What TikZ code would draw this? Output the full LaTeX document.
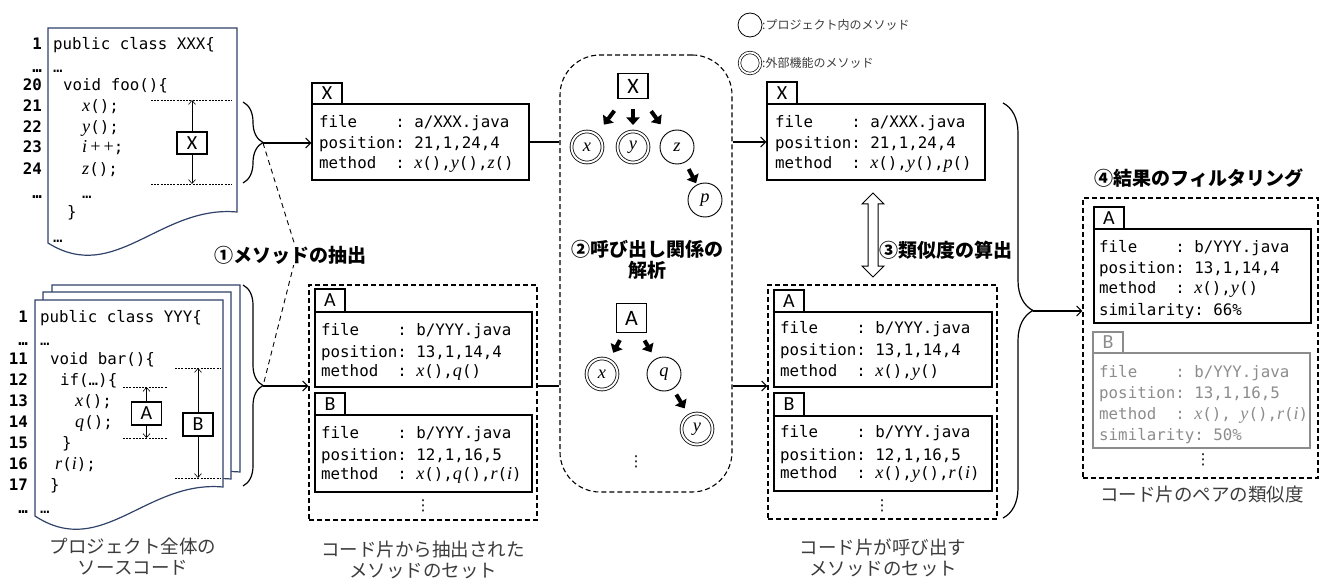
\documentclass[tikz,border=0pt]{standalone}
\usepackage{fontspec}
\setmainfont{Carlito}
\setsansfont{Carlito}
\setmonofont{DejaVu Sans Mono}
\newfontfamily\jp{Noto Sans CJK JP}
\newfontfamily\mi{Liberation Serif}[Scale=1.15]
\newfontfamily\dvs{DejaVu Sans}
\newcommand\mv[1]{{\mi\itshape #1}}
\usetikzlibrary{arrows.meta,decorations.pathreplacing,fit,calc}
\definecolor{docblue}{RGB}{47,66,105}
\definecolor{fade}{RGB}{140,140,140}
\definecolor{capgray}{RGB}{60,60,60}
\newcommand\threelines[8]{%
 \node[codetxt] (#1a) at (#2,#3) {#6};
 \node[codetxt] (#1b) at (#2,#4) {#7};
 \node[codetxt] (#1c) at (#2,#5) {#8};}
\tikzset{
 codetxt/.style={anchor=base west, inner sep=0, font=\ttfamily\fontsize{15.8}{19}\selectfont},
 lnum/.style={anchor=base east, inner sep=0, font=\ttfamily\bfseries\fontsize{15.8}{19}\selectfont},
 ibox/.style={draw, line width=1.1pt, inner sep=0},
 tabbox/.style={draw, line width=1.1pt, inner sep=0, minimum width=30, minimum height=22, font=\sffamily\fontsize{20}{20}\selectfont},
 grp/.style={draw, line width=1.1pt, dash pattern=on 5pt off 3pt, inner sep=0},
 docshape/.style={draw=docblue, line width=1.2pt, fill=white},
 rng/.style={line width=0.6pt, dash pattern=on 2pt off 1.2pt},
 rarrow/.style={line width=0.6pt, -{Straight Barb[length=4pt,width=7pt]}},
 conn/.style={line width=1.1pt},
 conarrow/.style={conn, -{Straight Barb[length=5pt,width=10pt]}},
 fatarrow/.style={line width=4pt, -{Triangle[length=7.5pt,width=13pt]}},
 meth/.style={circle, draw, line width=0.9pt, minimum size=34, inner sep=0, font=\mi\itshape\fontsize{16}{16}\selectfont},
 extmeth/.style={circle, draw, line width=0.8pt, double, double distance=2pt, minimum size=31, inner sep=0, font=\mi\itshape\fontsize{16}{16}\selectfont},
 steplbl/.style={font=\jp\bfseries\fontsize{19}{21}\selectfont, align=center, inner sep=1pt},
 captxt/.style={font=\jp\fontsize{18.5}{21}\selectfont, text=capgray, align=center, inner sep=0},
 brc/.style={line width=1.2pt, decorate},
 vdash/.style={line width=0.9pt, dash pattern=on 5pt off 4pt},
 vdots/.style={inner sep=0, font=\dvs\fontsize{15}{15}\selectfont},
}
\begin{document}
\begin{tikzpicture}[x=1pt,y=-1pt]
\useasboundingbox (0,0) rectangle (1319,580);

% ---------- document 1 ----------
\draw[docshape] (48,28) -- (237,28) -- (237,212) .. controls (160,205) and (115,285) .. (48,243) -- cycle;
\node[lnum] (n1) at (42,50) {1};
\node[lnum] (n2) at (42,73) {…};
\node[lnum] (n3) at (42,91) {20};
\node[lnum] (n4) at (42,112) {21};
\node[lnum] (n5) at (42,133) {22};
\node[lnum] (n6) at (42,153) {23};
\node[lnum] (n7) at (42,175) {24};
\node[lnum] (n8) at (42,198) {…};
\node[codetxt] (c1) at (53,50) {public class XXX\{};
\node[codetxt] (c2) at (53,73) {…};
\node[codetxt] (c3) at (63,91) {void foo()\{};
\node[codetxt] (c4) at (82,112) {\mv{x}();};
\node[codetxt] (c5) at (82,133) {\mv{y}();};
\node[codetxt] (c6) at (82,153) {\mv{i}{\mi\,+\,+};};
\node[codetxt] (c7) at (82,175) {\mv{z}();};
\node[codetxt] (c8) at (82,198) {…};
\node[codetxt] (c9) at (67,218) {\}};
\node[codetxt] (c10) at (53,242) {…};
\draw[rng] (151,100) coordinate (r1a) -- (232,100);
\draw[rng] (151,184) coordinate (r1b) -- (232,184);
\node[tabbox] (dX) at (192,143) {X};
\draw[rarrow] (dX.north) -- (dX.north |- r1a);
\draw[rarrow] (dX.south) -- (dX.south |- r1b);

% ---------- document 2 (stack) ----------
\draw[docshape] (52,285) -- (240,285) -- (240,472) .. controls (163,465) and (119,545) .. (52,501) -- cycle;
\draw[docshape] (43,292) -- (231,292) -- (231,479) .. controls (154,472) and (110,552) .. (43,508) -- cycle;
\draw[docshape] (35,300) -- (223,300) -- (223,487) .. controls (146,480) and (102,560) .. (35,516) -- cycle;
\node[lnum] (m1) at (28,322) {1};
\node[lnum] (m2) at (28,345) {…};
\node[lnum] (m3) at (28,364) {11};
\node[lnum] (m4) at (28,385) {12};
\node[lnum] (m5) at (28,406) {13};
\node[lnum] (m6) at (28,427) {14};
\node[lnum] (m7) at (28,448) {15};
\node[lnum] (m8) at (28,469) {16};
\node[lnum] (m9) at (28,490) {17};
\node[lnum] (m10) at (28,513) {…};
\node[codetxt] (e1) at (40,322) {public class YYY\{};
\node[codetxt] (e2) at (40,345) {…};
\node[codetxt] (e3) at (50,364) {void bar()\{};
\node[codetxt] (e4) at (60,385) {if(…)\{};
\node[codetxt] (e5) at (75,406) {\mv{x}();};
\node[codetxt] (e6) at (75,427) {\mv{q}();};
\node[codetxt] (e7) at (62,448) {\}};
\node[codetxt] (e8) at (55,469) {\mv{r}(\mv{i});};
\node[codetxt] (e9) at (50,490) {\}};
\node[codetxt] (e10) at (40,513) {…};
\draw[rng] (123,387) coordinate (ra1) -- (167,387);
\draw[rng] (123,438) coordinate (ra2) -- (167,438);
\draw[rng] (175,368) coordinate (rb1) -- (220,368);
\draw[rng] (175,478) coordinate (rb2) -- (220,478);
\node[tabbox, minimum height=23] (dA) at (146.5,413.5) {A};
\node[tabbox, minimum height=23] (dB) at (198,424.5) {B};
\draw[rarrow] (dA.north) -- (dA.north |- ra1);
\draw[rarrow] (dA.south) -- (dA.south |- ra2);
\draw[rarrow] (dB.north) -- (dB.north |- rb1);
\draw[rarrow] (dB.south) -- (dB.south |- rb2);

\node[captxt] (cap1) at (133,557) {プロジェクト全体の\\ソースコード};

% ---------- braces ----------
\draw[brc, decoration={brace, amplitude=20pt}] (243,102) -- (243,183);
\draw[brc, decoration={brace, amplitude=20pt}] (243,285) -- (243,486);
\coordinate (t1) at (263,143);
\coordinate (t2) at (263,386);
\coordinate (apex) at (297,252);
\draw[vdash] (t1) -- (apex) -- (t2);
\node[steplbl, fill=white] (L1) at (290,255) {①メソッドの抽出};

% ---------- box X (extracted) ----------
\node[ibox, fit={(312,104) (529,180)}] (bX) {};
\node[tabbox, minimum height=21] (tX) at (327,93.5) {X};
\threelines{bx}{319}{128}{149}{169}{file~~~~:~a/XXX.java}{position:~21,1,24,4}{method~~:~\mv{x}(),\mv{y}(),\mv{z}()}
\draw[conarrow] (t1) -- (bX.west |- t1);

% ---------- left group ----------
\node[grp, fit={(309,285) (537,520)}] (gL) {};
\node[tabbox, minimum height=23] (tLA) at (330,300.5) {A};
\node[ibox, fit={(315,312) (532,387)}] (bLA) {};
\threelines{la}{321}{335}{357}{376}{file~~~~:~b/YYY.java}{position:~13,1,14,4}{method~~:~\mv{x}(),\mv{q}()}
\node[tabbox] (tLB) at (330,404) {B};
\node[ibox, fit={(315,415) (532,492)}] (bLB) {};
\threelines{lb}{321}{438}{460}{479}{file~~~~:~b/YYY.java}{position:~12,1,16,5}{method~~:~\mv{x}(),\mv{q}(),\mv{r}(\mv{i})}
\node[vdots] (dotsL) at (423,506) {⋮};
\draw[conarrow] (t2) -- (gL.west |- t2);
\node[captxt] (cap2) at (423,560) {コード片から抽出された\\メソッドのセット};

% ---------- call graph ----------
\node[grp, rounded corners=40pt, fit={(560,55) (732,492)}] (G) {};
\node[tabbox, minimum height=25, font=\sffamily\fontsize{22}{22}\selectfont] (gX) at (633,86) {X};
\node[extmeth] (gx) at (587,147) {x};
\node[extmeth] (gy) at (633,147) {y};
\node[meth] (gz) at (677,147) {z};
\node[meth] (gp) at (705,200) {p};
\draw[fatarrow, shorten <=31pt, shorten >=28pt] (gX.center) -- (gx.center);
\draw[fatarrow, shorten <=23pt, shorten >=22pt] (gX.center) -- (gy.center);
\draw[fatarrow, shorten <=31pt, shorten >=28pt] (gX.center) -- (gz.center);
\draw[fatarrow, shorten <=25pt, shorten >=19pt] (gz.center) -- (gp.center);
\node[steplbl] (L2) at (647,260) {②呼び出し関係の\\解析};
\node[tabbox, minimum height=29, font=\sffamily\fontsize{22}{22}\selectfont] (gA) at (631.5,318) {A};
\node[extmeth] (gAx) at (602,374) {x};
\node[meth] (gq) at (664,374) {q};
\node[extmeth] (gAy) at (697,429) {y};
\draw[fatarrow, shorten <=25pt, shorten >=24pt] (gA.center) -- (gAx.center);
\draw[fatarrow, shorten <=26pt, shorten >=25pt] (gA.center) -- (gq.center);
\draw[fatarrow, shorten <=24pt, shorten >=24pt] (gq.center) -- (gAy.center);
\node[vdots] (dotsG) at (636,462) {⋮};

\draw[conn] (bX.east) -- (bX.east -| G.west);
\draw[conn] (gL.east |- t2) -- (G.west |- t2);

% ---------- legend ----------
\node[meth, minimum size=24, line width=0.8pt] (lg1) at (750,25) {};
\node[extmeth, minimum size=21, line width=0.7pt, double distance=1.8pt] (lg2) at (750,63) {};
\node[anchor=west, inner sep=0, font=\jp\fontsize{12}{13}\selectfont, text=capgray] (lt1) at (762,25) {:プロジェクト内のメソッド};
\node[anchor=west, inner sep=0, font=\jp\fontsize{12}{13}\selectfont, text=capgray] (lt2) at (762,63) {:外部機能のメソッド};

% ---------- box X (called) ----------
\node[ibox, fit={(767,104) (985,180)}] (bXr) {};
\node[tabbox, minimum height=22] (tXr) at (782,93) {X};
\threelines{rx}{775}{128}{149}{169}{file~~~~:~a/XXX.java}{position:~21,1,24,4}{method~~:~\mv{x}(),\mv{y}(),\mv{p}()}
\draw[conarrow] (G.east |- bXr.west) -- (bXr.west);

% double arrow
\draw[line width=1pt, fill=white] (873,193) -- (884,204) -- (878,204) -- (878,266) -- (884,266) -- (873,277) -- (862,266) -- (868,266) -- (868,204) -- (862,204) -- cycle;
\node[steplbl] (L3) at (946,250) {③類似度の算出};

% ---------- right group ----------
\node[grp, fit={(768,285) (997,519)}] (gR) {};
\node[tabbox] (tRA) at (789,301) {A};
\node[ibox, fit={(774,312) (992,387)}] (bRA) {};
\threelines{ra}{780}{333}{355}{376}{file~~~~:~b/YYY.java}{position:~13,1,14,4}{method~~:~\mv{x}(),\mv{y}()}
\node[tabbox, minimum height=23] (tRB) at (789,404.5) {B};
\node[ibox, fit={(774,416) (992,491)}] (bRB) {};
\threelines{rb}{780}{437}{460}{478}{file~~~~:~b/YYY.java}{position:~12,1,16,5}{method~~:~\mv{x}(),\mv{y}(),\mv{r}(\mv{i})}
\node[vdots] (dotsR) at (882,506) {⋮};
\draw[conarrow] (G.east |- t2) -- (gR.west |- t2);
\node[captxt] (cap3) at (883,558) {コード片が呼び出す\\メソッドのセット};

% ---------- big brace ----------
\draw[brc, decoration={brace, amplitude=30pt}] (1003,103) -- (1003,518);
\coordinate (t3) at (1033,311);

% ---------- final group ----------
\node[steplbl] (L4) at (1199,178) {④結果のフィルタリング};
\node[grp, fit={(1083,198) (1318,478)}] (gF) {};
\node[tabbox] (tFA) at (1109,218) {A};
\node[ibox, fit={(1094,229) (1311,323)}] (bFA) {};
\threelines{fa}{1099}{252}{273}{293}{file~~~~:~b/YYY.java}{position:~13,1,14,4}{method~~:~\mv{x}(),\mv{y}()}
\node[codetxt] (fad) at (1099,315) {similarity:~66\%};
\node[tabbox, draw=fade, text=fade, minimum height=21] (tFB) at (1108,342.5) {B};
\node[ibox, draw=fade, fit={(1093,353) (1310,448)}] (bFB) {};
\begin{scope}[every node/.append style={text=fade}]
\threelines{fb}{1099}{377}{398}{419}{file~~~~:~b/YYY.java}{position:~13,1,16,5}{method~~:~\mv{x}(),~\mv{y}(),\mv{r}(\mv{i})}
\node[codetxt] (fbd) at (1099,440) {similarity:~50\%};
\end{scope}
\node[vdots] (dotsF) at (1203,460) {⋮};
\draw[conarrow] (t3) -- (gF.west |- t3);
\node[captxt] (cap4) at (1202,495) {コード片のペアの類似度};
\end{tikzpicture}
\end{document}
